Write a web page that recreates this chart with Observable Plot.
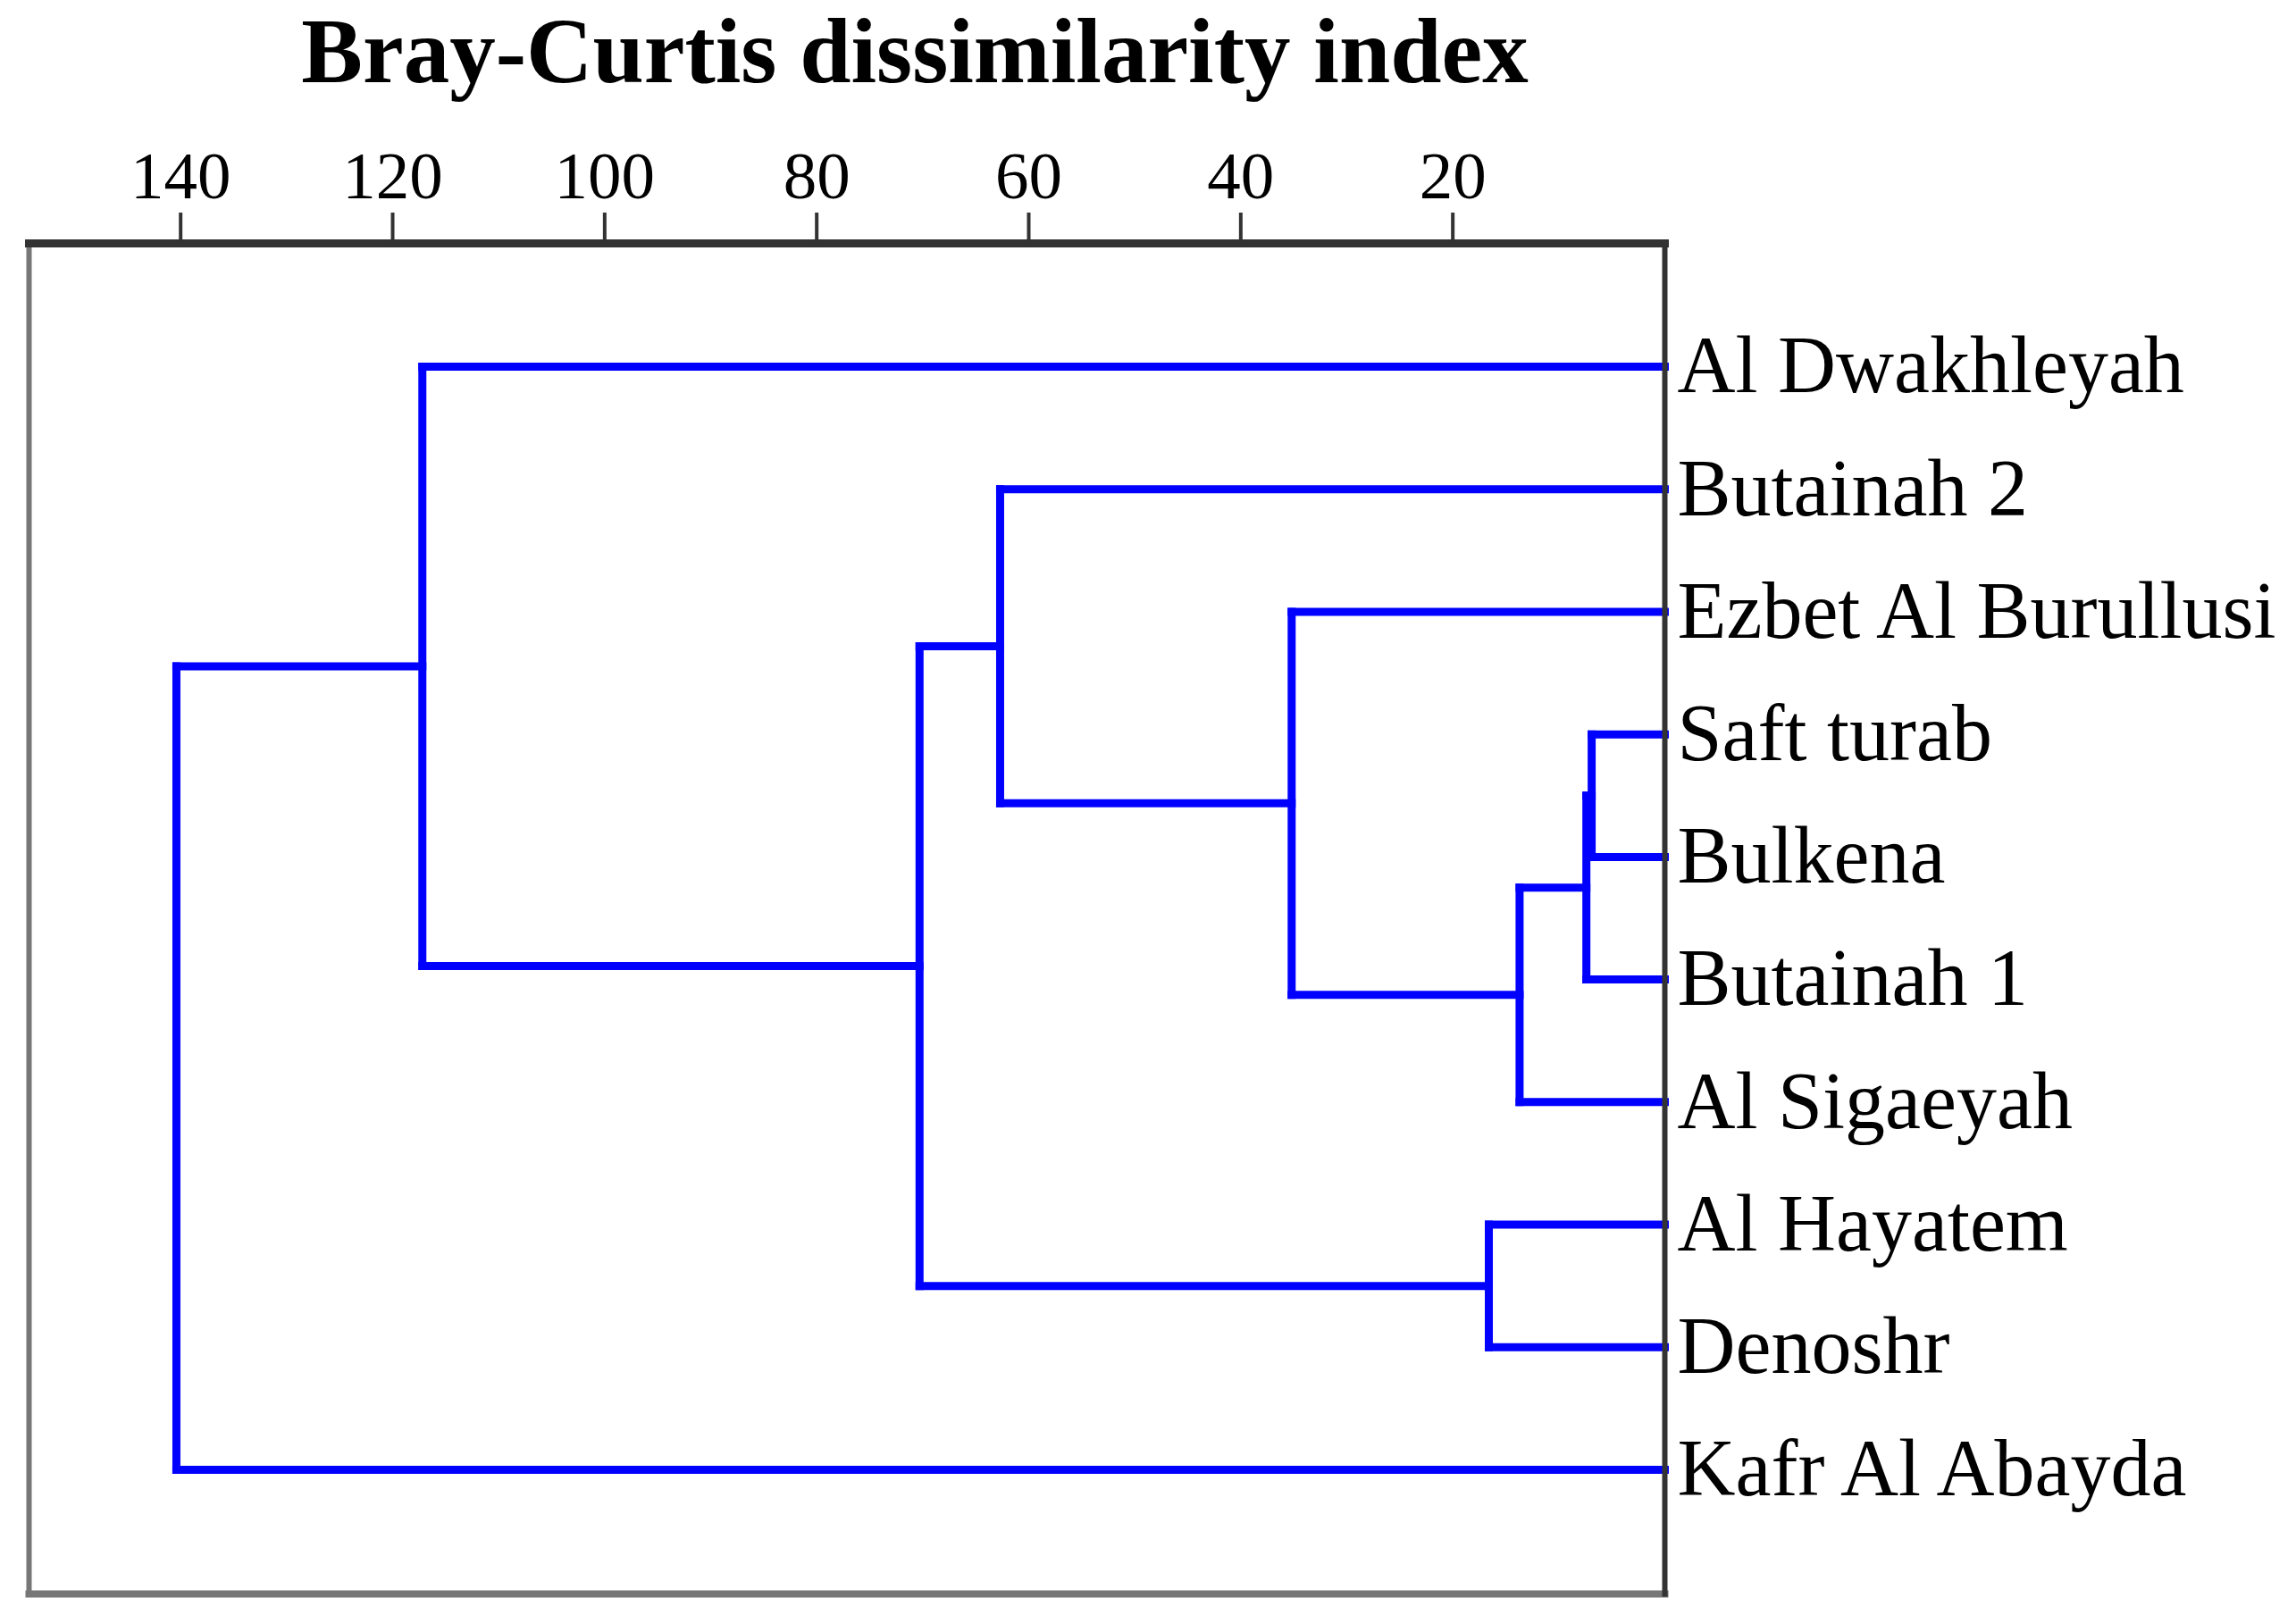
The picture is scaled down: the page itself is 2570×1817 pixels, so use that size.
<!DOCTYPE html>
<html>
<head>
<meta charset="utf-8">
<script src="https://cdn.jsdelivr.net/npm/d3@7"></script>
<script src="https://cdn.jsdelivr.net/npm/@observablehq/plot@0.6"></script>
<style>
  html, body { margin: 0; padding: 0; background: #ffffff; }
  #title {
    width: 2048px; height: 130px; box-sizing: border-box; padding-top: 6px;
    text-align: center; font: bold 103px/103px "Liberation Serif", "Times New Roman", serif;
    color: #000; white-space: nowrap;
  }
  #chart svg { display: block; }
</style>
</head>
<body>
<div id="title">Bray-Curtis dissimilarity index</div>
<div id="chart"></div>
<script>
// Leaves in dendrogram order (top to bottom)
const leafNames = ["Al Dwakhleyah", "Butainah 2", "Ezbet Al Burullusi", "Saft turab", "Bulkena",
  "Butainah 1", "Al Sigaeyah", "Al Hayatem", "Denoshr", "Kafr Al Abayda"];
// Merge table (hclust style): negative = leaf (index+1), positive = earlier merge number
const mergeA = [-4, 1, 2, -3, -2, -8, 5, -1, 8];
const mergeB = [-5, -6, -7, 3, 4, -9, 6, 7, -10];
const mergeHeight = [6.9, 7.4, 13.7, 35.2, 62.7, 16.6, 70.3, 117.2, 140.4];
const xTicks = [140, 120, 100, 80, 60, 40, 20];

// Build node positions
const mergeY = [];
function node(id) {
  if (id < 0) return {x: 0, y: -id - 1};
  return {x: mergeHeight[id - 1], y: mergeY[id - 1]};
}
const segments = [];
mergeHeight.forEach((h, i) => {
  const a = node(mergeA[i]), b = node(mergeB[i]);
  mergeY[i] = (a.y + b.y) / 2;
  segments.push({x1: h, x2: h, y1: a.y, y2: b.y});
  segments.push({x1: h, x2: a.x, y1: a.y, y2: a.y});
  segments.push({x1: h, x2: b.x, y1: b.y, y2: b.y});
});
const leaves = leafNames.map((name, i) => ({name, i}));

const chart = Plot.plot({
  width: 2570,
  height: 1687,
  marginTop: 142,
  marginBottom: 33,
  marginLeft: 32,
  marginRight: 707,
  style: {fontFamily: "'Liberation Serif', 'Times New Roman', serif", background: "#ffffff", color: "#000"},
  x: {domain: [154.3, 0]},
  y: {domain: [0, 9], range: [280, 1515], axis: null},
  marks: [
    Plot.link(segments, {x1: "x1", y1: "y1", x2: "x2", y2: "y2", stroke: "#0000ff", strokeWidth: 9, strokeLinecap: "square"}),
    Plot.frame({anchor: "left", stroke: "#777", strokeWidth: 6}),
    Plot.frame({anchor: "bottom", stroke: "#777", strokeWidth: 8}),
    Plot.frame({anchor: "right", stroke: "#333", strokeWidth: 6}),
    Plot.frame({anchor: "top", stroke: "#333", strokeWidth: 9}),
    Plot.axisX({anchor: "top", ticks: xTicks, tickSize: 35, tickPadding: 16, fontSize: 75, stroke: "#333", strokeWidth: 4, fill: "#000", label: null}),
    Plot.text(leaves, {x: () => 0, y: "i", text: "name", textAnchor: "start", dx: 14, fontSize: 90, fill: "#000"})
  ]
});
document.getElementById("chart").appendChild(chart);
</script>
</body>
</html>
